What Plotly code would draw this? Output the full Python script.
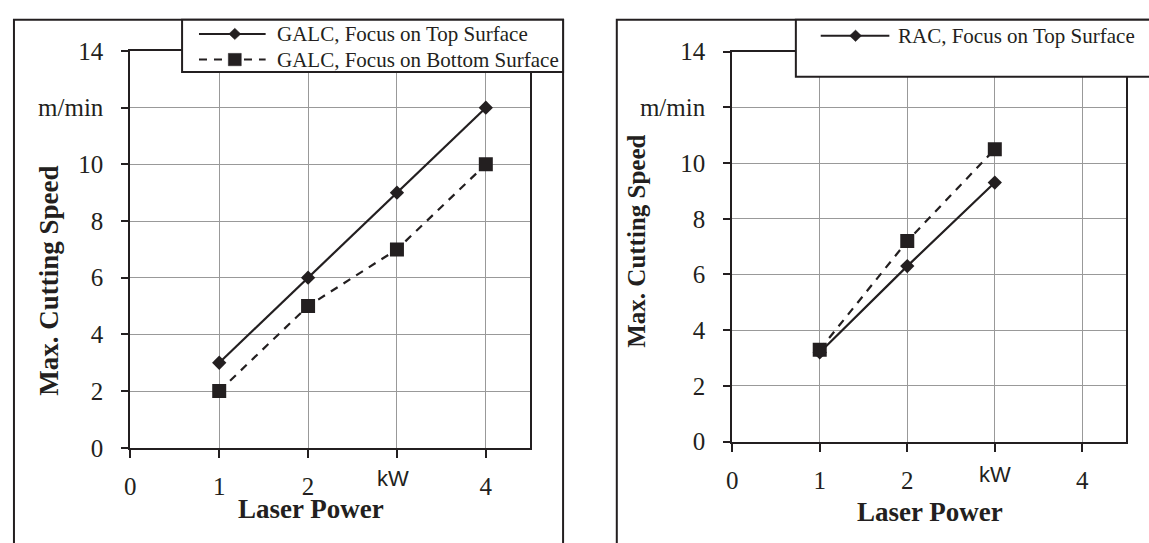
import plotly.graph_objects as go

W, H = 1149, 543

# ---------------- data ----------------
galc_power = [1, 2, 3, 4]
galc_top = [3, 6, 9, 12]
galc_bottom = [2, 5, 7, 10]

rac_power = [1, 2, 3]
rac_top = [3.2, 6.3, 9.3]
rac_bottom = [3.3, 7.2, 10.5]

y_tick_vals = [0, 2, 4, 6, 8, 10, 12, 14]
y_tick_text = ["0", "2", "4", "6", "8", "10", "m/min", "14"]
x_tick_vals = [0, 1, 2, 3, 4]
x_tick_text = ["0", "1", "2", "", "4"]
x_unit_label = "kW"
x_unit_pos = 3

left_legend = ["GALC, Focus on Top Surface", "GALC, Focus on Bottom Surface"]
right_legend = ["RAC, Focus on Top Surface"]
x_title = "Laser Power"
y_title = "Max. Cutting Speed"

# ---------------- style ----------------
INK = "#231f20"
GRID = "#999999"
SERIF = "Liberation Serif, Times New Roman, serif"
SANS = "Liberation Sans, Arial, sans-serif"


def PX(x):
    return x / W


def PY(y):
    return 1 - y / H


fig = go.Figure()

line_solid = dict(color=INK, width=2.2)
line_dash = dict(color=INK, width=2.2, dash="8px,7px")

fig.add_trace(go.Scatter(x=galc_power, y=galc_bottom, mode="lines+markers",
                         line=line_dash, marker=dict(symbol="square", size=14, color=INK),
                         xaxis="x", yaxis="y", showlegend=False))
fig.add_trace(go.Scatter(x=galc_power, y=galc_top, mode="lines+markers",
                         line=line_solid, marker=dict(symbol="diamond", size=11, color=INK),
                         xaxis="x", yaxis="y", showlegend=False))
fig.add_trace(go.Scatter(x=rac_power, y=rac_bottom, mode="lines+markers",
                         line=line_dash, marker=dict(symbol="square", size=14, color=INK),
                         xaxis="x2", yaxis="y2", showlegend=False))
fig.add_trace(go.Scatter(x=rac_power, y=rac_top, mode="lines+markers",
                         line=line_solid, marker=dict(symbol="diamond", size=11, color=INK),
                         xaxis="x2", yaxis="y2", showlegend=False))

xaxis_common = dict(range=[0, 4.5], tickvals=x_tick_vals, ticktext=x_tick_text,
                    showgrid=True, gridcolor=GRID, gridwidth=1.3,
                    showline=True, linecolor=INK, linewidth=2, mirror=True,
                    ticks="outside", ticklen=8, tickwidth=2, tickcolor=INK,
                    ticklabelstandoff=7,
                    tickfont=dict(family=SERIF, size=25, color=INK),
                    zeroline=False, fixedrange=True)
yaxis_common = dict(range=[0, 14], tickvals=y_tick_vals, ticktext=y_tick_text,
                    showgrid=True, gridcolor=GRID, gridwidth=1.3,
                    showline=True, linecolor=INK, linewidth=2, mirror=True,
                    ticks="outside", ticklen=7, tickwidth=2, tickcolor=INK,
                    ticklabelstandoff=13,
                    tickfont=dict(family=SERIF, size=25, color=INK),
                    zeroline=False, fixedrange=True)

fig.update_layout(
    width=W, height=H,
    margin=dict(l=0, r=0, t=0, b=0),
    paper_bgcolor="white", plot_bgcolor="white",
    xaxis=dict(domain=[PX(125), PX(527)], anchor="y", **xaxis_common),
    yaxis=dict(domain=[PY(457.5), PY(40)], anchor="x", **yaxis_common),
    xaxis2=dict(domain=[PX(730), PX(1126)], anchor="y2", **xaxis_common),
    yaxis2=dict(domain=[PY(451), PY(40.7)], anchor="x2", **yaxis_common),
    showlegend=False,
)

shapes = []
annotations = []


def rect(x0, y0, x1, y1, fill=None):
    shapes.append(dict(type="rect", xref="paper", yref="paper",
                       x0=PX(x0), x1=PX(x1), y0=PY(y1), y1=PY(y0),
                       line=dict(color=INK, width=2),
                       fillcolor=fill if fill else "rgba(0,0,0,0)", layer="above"))


def sample_line(x0, x1, y, dash=None):
    ln = dict(color=INK, width=2)
    if dash:
        ln["dash"] = dash
    shapes.append(dict(type="line", xref="paper", yref="paper",
                       x0=PX(x0), x1=PX(x1), y0=PY(y), y1=PY(y),
                       line=ln, layer="above"))


def diamond(cx, cy, r):
    path = "M {},{} L {},{} L {},{} L {},{} Z".format(
        PX(cx), PY(cy - r), PX(cx + r), PY(cy), PX(cx), PY(cy + r), PX(cx - r), PY(cy))
    shapes.append(dict(type="path", xref="paper", yref="paper", path=path,
                       fillcolor=INK, line=dict(color=INK, width=0.5), layer="above"))


def square(cx, cy, r):
    shapes.append(dict(type="rect", xref="paper", yref="paper",
                       x0=PX(cx - r), x1=PX(cx + r), y0=PY(cy + r), y1=PY(cy - r),
                       fillcolor=INK, line=dict(color=INK, width=0.5), layer="above"))


def text(x, y, s, size, family=SERIF, xanchor="left", bold=False, angle=0,
         xref="paper", xv=None, xshift=0):
    annotations.append(dict(
        x=xv if xv is not None else PX(x), y=PY(y), xref=xref, yref="paper",
        text="<b>" + s + "</b>" if bold else s, xshift=xshift,
        showarrow=False, xanchor=xanchor, yanchor="middle", textangle=angle,
        font=dict(family=family, size=size, color=INK)))


# outer frames
rect(8, 7, 560, 560)
rect(614, 7, 1160, 560)

# left legend
rect(177, 7, 560, 62, fill="white")
sample_line(194, 261, 22)
diamond(230, 22, 6)
text(270, 22, left_legend[0], 21)
sample_line(194, 261, 49, dash="8px,7px")
square(230, 49, 6.5)
text(270, 49, left_legend[1], 21)

# right legend
rect(794, 7, 1160, 67, fill="white")
sample_line(819, 888, 24)
diamond(854, 24, 6)
text(895, 24, right_legend[0], 21)

# axis titles
text(43, 282, y_title, 27, bold=True, angle=-90, xanchor="center")
text(633, 240, y_title, 25, bold=True, angle=-90, xanchor="center")
text(307, 522, x_title, 27, bold=True, xanchor="center")
text(929, 525, x_title, 27, bold=True, xanchor="center")

# unit labels on x axis
text(0, 490, x_unit_label, 22, family=SANS, xanchor="center", xref="x", xv=x_unit_pos, xshift=-4)
text(0, 486, x_unit_label, 22, family=SANS, xanchor="center", xref="x2", xv=x_unit_pos)

fig.update_layout(shapes=shapes, annotations=annotations)

fig.write_html("out.html", config={"displayModeBar": False},
               post_script="document.body.style.margin='0';document.body.style.overflow='hidden';")
